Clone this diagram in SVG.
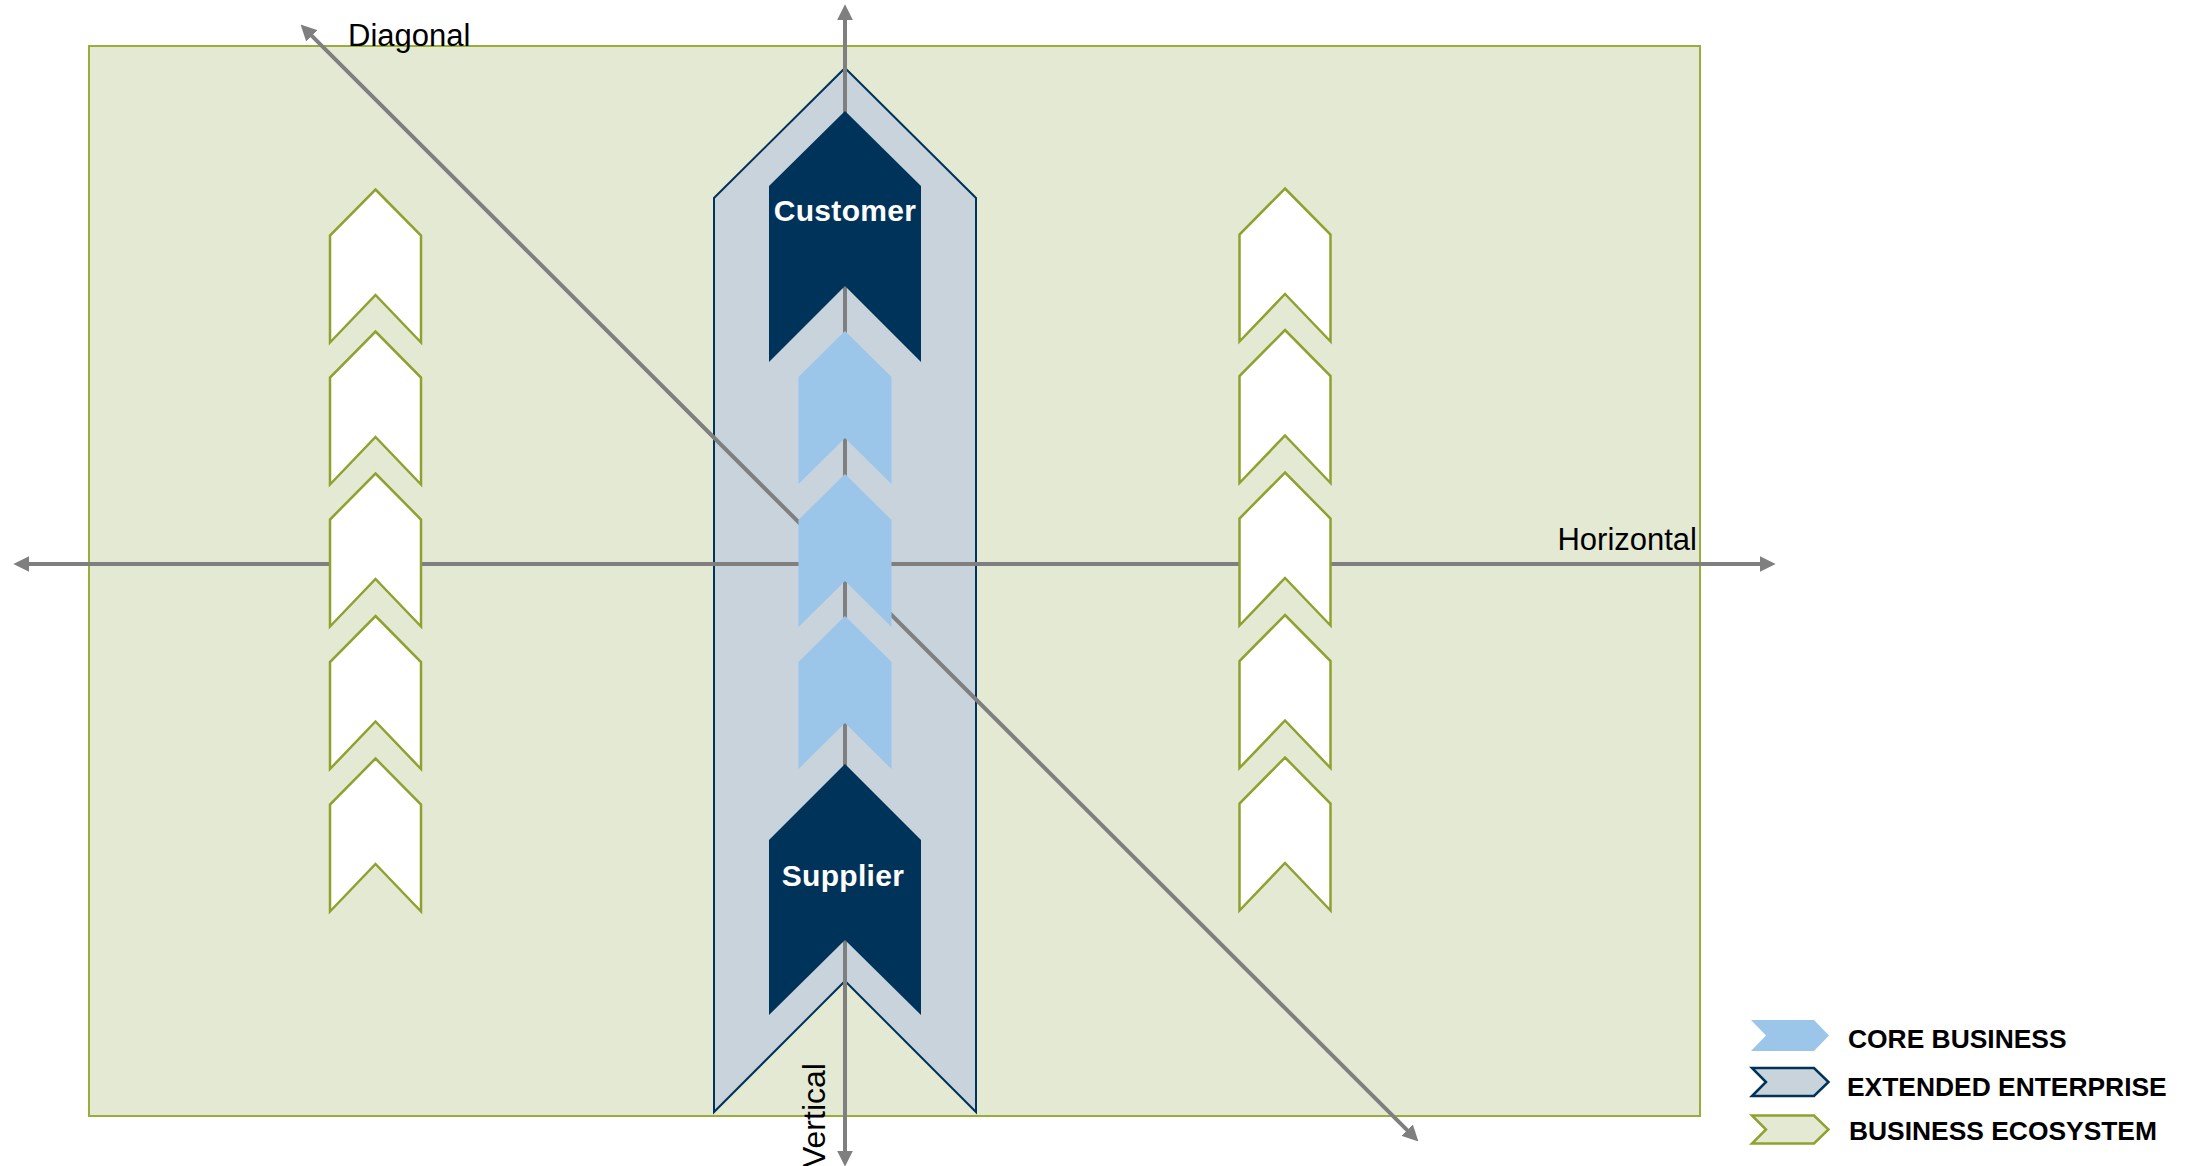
<svg xmlns="http://www.w3.org/2000/svg" width="2185" height="1166" viewBox="0 0 2185 1166">
<style>
.bg{fill:#E4E9D3;stroke:#9AAD3A;stroke-width:2}
.eco{fill:#FFFFFF;stroke:#8FA12F;stroke-width:2.5;stroke-linejoin:miter}
.ext{fill:#C8D3DC;stroke:#00335A;stroke-width:2}
.core{fill:#9BC6E9;stroke:none}
.dark{fill:#00335A;stroke:none}
.axis{stroke:#7F7F7F;stroke-width:4;fill:none;marker-start:url(#ah);marker-end:url(#ah)}
.lbl{font-family:"Liberation Sans",Arial,sans-serif;font-size:31px;fill:#000}
.nodetxt{font-family:"Liberation Sans",Arial,sans-serif;font-size:30px;font-weight:bold;fill:#FFFFFF;text-anchor:middle;letter-spacing:0.3px}
.leg{font-family:"Liberation Sans",Arial,sans-serif;font-size:26.4px;font-weight:bold;fill:#000}
</style>
<defs>
<marker id="ah" markerUnits="userSpaceOnUse" markerWidth="16" markerHeight="16" viewBox="0 0 15 15" refX="5" refY="7.5" orient="auto-start-reverse">
<path d="M0,0 L15,7.5 L0,15 z" fill="#7F7F7F"/>
</marker>
</defs>

<g id="business-ecosystem-area">
<rect class="bg" x="89" y="46" width="1611" height="1070"/>
</g>

<g id="extended-enterprise">
<polygon class="ext" points="845,68 976,198 976,1112 845,981 714,1112 714,198"/>
</g>

<g id="connectors">
<line id="horizontal-axis" class="axis" x1="24" y1="564" x2="1765" y2="564"/>
<line id="diagonal-axis" class="axis" x1="308.1" y1="32.1" x2="1410.9" y2="1133.9"/>
<line id="vertical-axis" class="axis" x1="845" y1="15" x2="845" y2="1156"/>
</g>

<g id="ecosystem-left">
<polygon class="eco" points="375.5,189.5 421,235.5 421,342.5 375.5,295 330,342.5 330,235.5"/>
<polygon class="eco" points="375.5,331.5 421,377.5 421,484.5 375.5,437 330,484.5 330,377.5"/>
<polygon class="eco" points="375.5,473.5 421,519.5 421,626.5 375.5,579 330,626.5 330,519.5"/>
<polygon class="eco" points="375.5,616 421,662 421,769 375.5,721.5 330,769 330,662"/>
<polygon class="eco" points="375.5,758.5 421,804.5 421,911.5 375.5,864 330,911.5 330,804.5"/>
</g>

<g id="ecosystem-right">
<polygon class="eco" points="1285,188.5 1330.5,234.5 1330.5,341.5 1285,294 1239.5,341.5 1239.5,234.5"/>
<polygon class="eco" points="1285,330 1330.5,376 1330.5,483 1285,435.5 1239.5,483 1239.5,376"/>
<polygon class="eco" points="1285,472.5 1330.5,518.5 1330.5,625.5 1285,578 1239.5,625.5 1239.5,518.5"/>
<polygon class="eco" points="1285,615 1330.5,661 1330.5,768 1285,720.5 1239.5,768 1239.5,661"/>
<polygon class="eco" points="1285,757.5 1330.5,803.5 1330.5,910.5 1285,863 1239.5,910.5 1239.5,803.5"/>
</g>

<g id="core-business">
<polygon class="core" points="845,331 891.5,377 891.5,484 845,438 798.5,484 798.5,377"/>
<polygon class="core" points="845,474 891.5,520 891.5,627 845,581 798.5,627 798.5,520"/>
<polygon class="core" points="845,616 891.5,662 891.5,769 845,723 798.5,769 798.5,662"/>
</g>

<g id="customer">
<polygon class="dark" points="845,111 921,186 921,362 845,286 769,362 769,186"/>
<text class="nodetxt" x="845" y="221">Customer</text>
</g>

<g id="supplier">
<polygon class="dark" points="845,764 921,840 921,1015 845,940 769,1015 769,840"/>
<text class="nodetxt" x="843" y="886">Supplier</text>
</g>

<g id="axis-labels">
<text class="lbl" x="348" y="46">Diagonal</text>
<text class="lbl" x="1697" y="550" text-anchor="end">Horizontal</text>
<text class="lbl" x="0" y="0" transform="translate(825,1168) rotate(-90)" style="font-size:32px">Vertical</text>
</g>

<g id="legend">
<g id="legend-core">
<polygon class="core" points="1751,1020 1814,1020 1829,1035.5 1814,1051 1751,1051 1766,1035.5"/>
<text class="leg" x="1848" y="1048">CORE BUSINESS</text>
</g>
<g id="legend-extended">
<polygon class="ext" points="1752,1068 1814,1068 1828.5,1082 1814,1096 1752,1096 1766,1082" style="stroke-width:2.5"/>
<text class="leg" x="1847" y="1096">EXTENDED ENTERPRISE</text>
</g>
<g id="legend-ecosystem">
<polygon class="bg" points="1752,1115.5 1814,1115.5 1828.5,1129.5 1814,1143.5 1752,1143.5 1766,1129.5" style="stroke:#8FA12F;stroke-width:2.5"/>
<text class="leg" x="1849" y="1140">BUSINESS ECOSYSTEM</text>
</g>
</g>
</svg>
